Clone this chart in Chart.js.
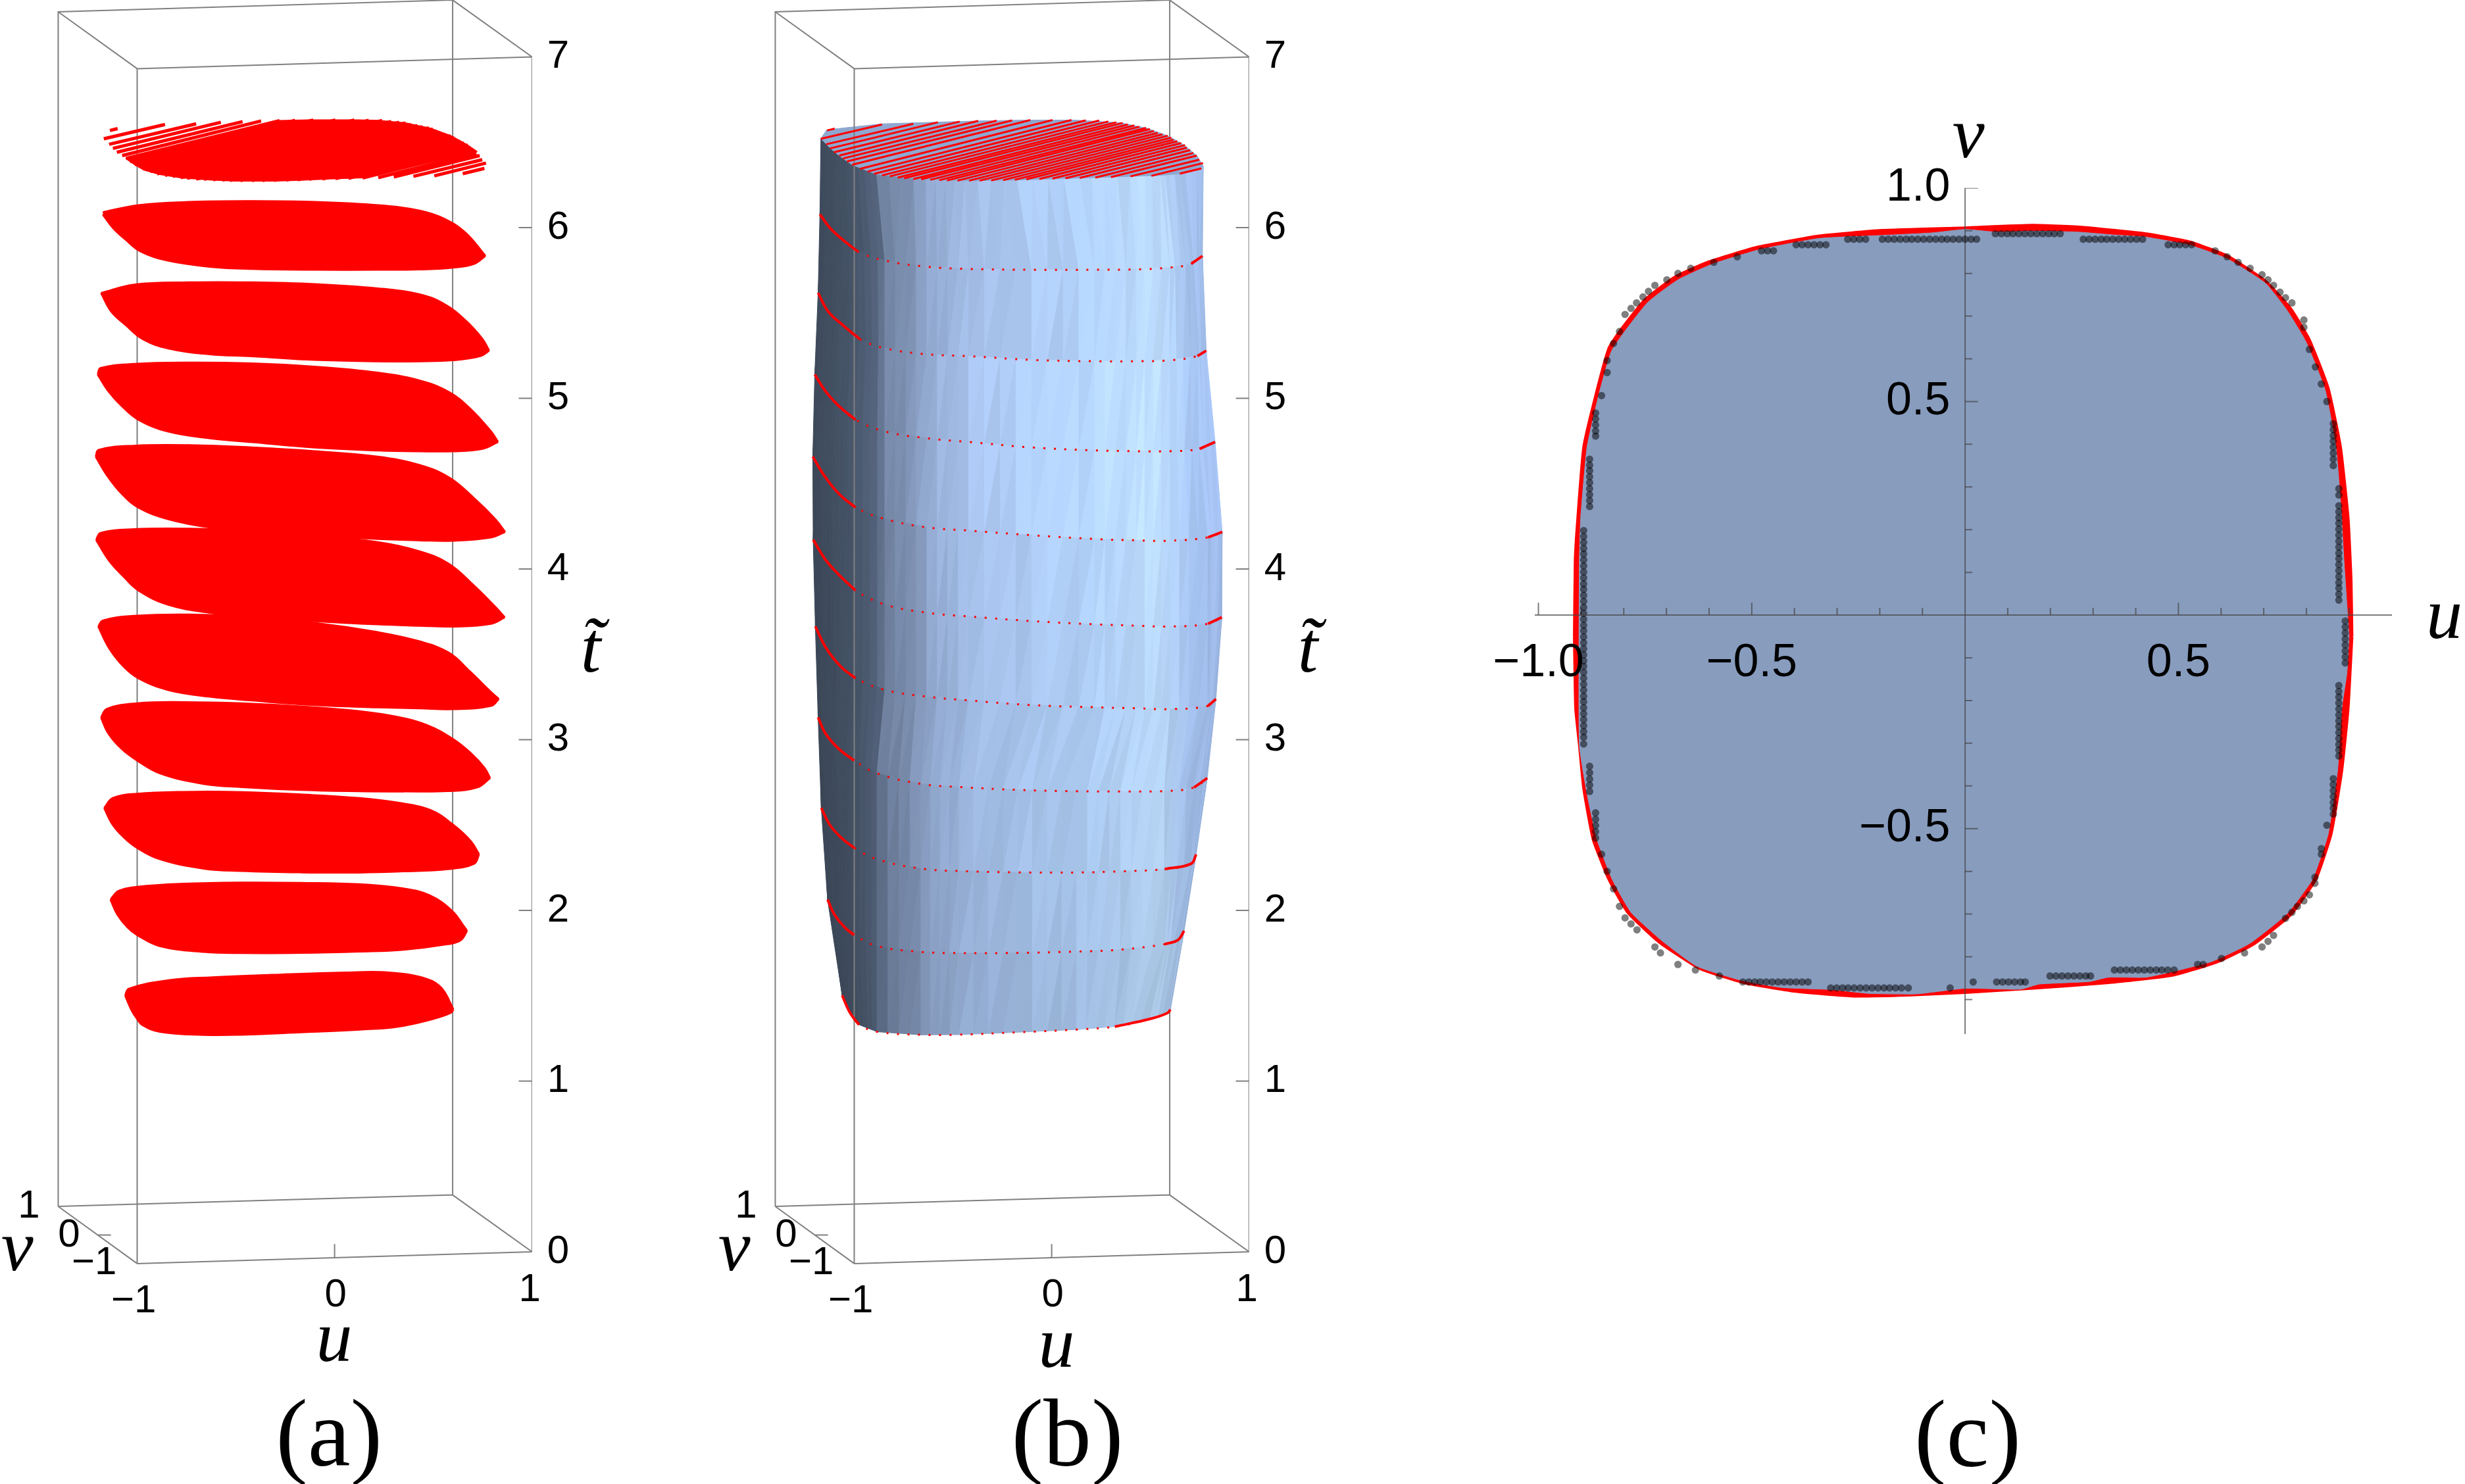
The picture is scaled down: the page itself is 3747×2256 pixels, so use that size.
<!DOCTYPE html>
<html>
<head>
  <meta charset="UTF-8">
  <title>Slices</title>
  <script src="https://cdn.jsdelivr.net/npm/chart.js"></script>
  <style>
    html, body { margin: 0; background: #fff; }
    canvas { position: absolute; top: 0; }
    #panelA { left: 0; }
    #panelB { left: 1090px; }
    #panelC { left: 2250px; }
  </style>
</head>
<body>
  <canvas id="panelA" width="1090" height="2256"></canvas>
  <canvas id="panelB" width="1090" height="2256"></canvas>
  <canvas id="panelC" width="1497" height="2256"></canvas>

  <script>
    // axis values
    const tTicks = [0, 1, 2, 3, 4, 5, 6, 7];
    const uTicksMajor = [-1, -0.5, 0.5];
    const uTicksMinor = [-0.9, -0.8, -0.7, -0.6, -0.4, -0.3, -0.2, -0.1, 0.1, 0.2, 0.3, 0.4, 0.6, 0.7, 0.8, 0.9];
    const vTicksMajor = [1, 0.5, -0.5];
    const vTicksMinor = [0.9, 0.8, 0.7, 0.6, 0.4, 0.3, 0.2, 0.1, -0.1, -0.2, -0.3, -0.4, -0.6, -0.7, -0.8, -0.9];

    // 3d box as projected on the panel: x is u on the front face, y is t on the right front edge
    const boxFront = [[-1, -0.069], [1, 0], [1, 7], [-1, 6.931], [-1, -0.069]];
    const boxBack = [[-1.4, 0.266], [0.598, 0.333], [0.598, 7.333], [-1.4, 7.264], [-1.4, 0.266]];
    const boxLinks = [
      [[-1.4, 0.266], [-1, -0.069]], [[0.598, 0.333], [1, 0]],
      [[-1.4, 7.264], [-1, 6.931]], [[0.598, 7.333], [1, 7]]
    ];
    const boxTicks = [
      [[0.933, 1], [1, 1]], [[0.933, 2], [1, 2]], [[0.933, 3], [1, 3]],
      [[0.933, 4], [1, 4]], [[0.933, 5], [1, 5]], [[0.933, 6], [1, 6]],
      [[0, -0.036], [0, 0.045]], [[-1.2, 0.098], [-1.133, 0.098]]
    ];

    // slice outlines, left tip to right tip, projected the same way
    const slice2Top = [[-1.174, 6.09], [-0.993, 6.131], [-0.738, 6.15], [-0.42, 6.155], [-0.101, 6.15], [0.218, 6.131], [0.43, 6.099], [0.558, 6.05], [0.664, 5.969], [0.764, 5.834]];
    const slice2Bottom = [[-1.174, 6.077], [-1.121, 5.996], [-1.057, 5.928], [-0.983, 5.861], [-0.845, 5.807], [-0.632, 5.771], [-0.42, 5.758], [-0.101, 5.753], [0.218, 5.753], [0.43, 5.755], [0.6, 5.766], [0.707, 5.788], [0.764, 5.834]];
    const slice3Top = [[-1.183, 5.617], [-1.015, 5.666], [-0.738, 5.679], [-0.42, 5.679], [-0.101, 5.669], [0.218, 5.644], [0.43, 5.609], [0.558, 5.55], [0.664, 5.455], [0.749, 5.347], [0.783, 5.279]];
    const slice3Bottom = [[-1.183, 5.617], [-1.132, 5.509], [-1.057, 5.428], [-0.972, 5.347], [-0.845, 5.293], [-0.632, 5.258], [-0.42, 5.247], [-0.101, 5.225], [0.218, 5.217], [0.43, 5.217], [0.6, 5.223], [0.738, 5.247], [0.783, 5.279]];
    const slice4Top = [[-1.2, 5.139], [-1.185, 5.177], [-1.015, 5.201], [-0.738, 5.209], [-0.42, 5.204], [-0.101, 5.185], [0.218, 5.15], [0.43, 5.104], [0.579, 5.036], [0.685, 4.941], [0.792, 4.806], [0.828, 4.744]];
    const slice4Bottom = [[-1.2, 5.139], [-1.142, 5.036], [-1.078, 4.955], [-0.993, 4.874], [-0.845, 4.806], [-0.632, 4.766], [-0.42, 4.744], [-0.101, 4.712], [0.218, 4.695], [0.43, 4.69], [0.6, 4.69], [0.749, 4.704], [0.828, 4.744]];
    const slice5Top = [[-1.21, 4.658], [-1.195, 4.698], [-1.015, 4.722], [-0.738, 4.725], [-0.42, 4.712], [-0.101, 4.69], [0.218, 4.658], [0.43, 4.609], [0.579, 4.536], [0.707, 4.414], [0.813, 4.293], [0.864, 4.217]];
    const slice5Bottom = [[-1.21, 4.658], [-1.153, 4.549], [-1.078, 4.441], [-0.993, 4.36], [-0.845, 4.293], [-0.632, 4.244], [-0.42, 4.225], [-0.101, 4.198], [0.218, 4.176], [0.43, 4.168], [0.6, 4.166], [0.792, 4.185], [0.864, 4.217]];
    const slice6Top = [[-1.208, 4.171], [-1.185, 4.211], [-1.015, 4.233], [-0.738, 4.236], [-0.42, 4.225], [-0.101, 4.198], [0.218, 4.157], [0.43, 4.103], [0.579, 4.03], [0.707, 3.901], [0.813, 3.779], [0.862, 3.717]];
    const slice6Bottom = [[-1.208, 4.171], [-1.142, 4.049], [-1.068, 3.955], [-0.993, 3.874], [-0.845, 3.792], [-0.632, 3.744], [-0.42, 3.722], [-0.101, 3.695], [0.218, 3.676], [0.43, 3.668], [0.6, 3.663], [0.792, 3.679], [0.862, 3.717]];
    const slice7Top = [[-1.197, 3.663], [-1.174, 3.698], [-1.015, 3.725], [-0.738, 3.733], [-0.42, 3.717], [-0.101, 3.684], [0.218, 3.63], [0.43, 3.576], [0.579, 3.509], [0.685, 3.4], [0.792, 3.279], [0.832, 3.238]];
    const slice7Bottom = [[-1.197, 3.663], [-1.142, 3.536], [-1.068, 3.428], [-0.993, 3.36], [-0.845, 3.292], [-0.632, 3.252], [-0.42, 3.23], [-0.101, 3.203], [0.218, 3.19], [0.43, 3.184], [0.6, 3.179], [0.792, 3.198], [0.832, 3.238]];
    const slice8Top = [[-1.183, 3.13], [-1.153, 3.181], [-1, 3.213], [-0.766, 3.22], [-0.469, 3.213], [-0.171, 3.195], [0.126, 3.167], [0.32, 3.133], [0.468, 3.085], [0.602, 3.002], [0.691, 2.92], [0.758, 2.837], [0.788, 2.775]];
    const slice8Bottom = [[-1.183, 3.13], [-1.146, 3.037], [-1.079, 2.947], [-1, 2.878], [-0.885, 2.803], [-0.662, 2.741], [-0.469, 2.723], [-0.171, 2.706], [0.126, 2.698], [0.349, 2.697], [0.572, 2.699], [0.721, 2.72], [0.788, 2.775]];
    const slice9Top = [[-1.167, 2.6], [-1.123, 2.658], [-1, 2.683], [-0.766, 2.694], [-0.469, 2.693], [-0.171, 2.679], [0.126, 2.658], [0.32, 2.631], [0.483, 2.589], [0.602, 2.5], [0.691, 2.404], [0.732, 2.328]];
    const slice9Bottom = [[-1.167, 2.6], [-1.123, 2.5], [-1.064, 2.424], [-1, 2.366], [-0.885, 2.3], [-0.662, 2.245], [-0.469, 2.231], [-0.171, 2.223], [0.126, 2.222], [0.349, 2.229], [0.572, 2.242], [0.706, 2.273], [0.732, 2.328]];
    const slice10Top = [[-1.135, 2.063], [-1.094, 2.114], [-1, 2.138], [-0.766, 2.156], [-0.469, 2.163], [-0.171, 2.161], [0.126, 2.153], [0.349, 2.128], [0.483, 2.087], [0.595, 1.997], [0.654, 1.908], [0.671, 1.88]];
    const slice10Bottom = [[-1.135, 2.063], [-1.101, 1.977], [-1.049, 1.901], [-1, 1.856], [-0.885, 1.791], [-0.662, 1.757], [-0.469, 1.75], [-0.171, 1.751], [0.126, 1.759], [0.349, 1.77], [0.572, 1.802], [0.639, 1.826], [0.671, 1.88]];
    const slice11Top = [[-1.061, 1.502], [-1.042, 1.541], [-0.841, 1.591], [-0.618, 1.608], [-0.32, 1.622], [0.052, 1.636], [0.275, 1.636], [0.468, 1.598], [0.543, 1.543], [0.602, 1.419]];
    const slice11Bottom = [[-1.061, 1.502], [-1.027, 1.412], [-1, 1.364], [-0.975, 1.33], [-0.885, 1.289], [-0.662, 1.271], [-0.469, 1.272], [-0.171, 1.286], [0.126, 1.302], [0.32, 1.319], [0.498, 1.364], [0.587, 1.399], [0.602, 1.419]];

    // top slice: solid middle, full outline of the cap, and its point rows
    const slice1MidTop = [[-1.057, 6.405], [-0.28, 6.626], [-0.128, 6.63], [0.116, 6.63], [0.221, 6.627], [0.353, 6.614], [0.484, 6.582], [0.59, 6.537], [0.669, 6.486], [0.722, 6.445]];
    const slice1MidBottom = [[-1.057, 6.405], [-1.011, 6.368], [-0.965, 6.338], [-0.886, 6.312], [-0.78, 6.293], [-0.635, 6.28], [-0.504, 6.274], [-0.306, 6.274], [-0.174, 6.278], [-0.003, 6.287], [0.142, 6.293], [0.722, 6.445]];
    const capTop = [[-1.169, 6.522], [-1.139, 6.573], [-0.859, 6.608], [-0.576, 6.618], [-0.372, 6.625], [-0.128, 6.63], [0.116, 6.63], [0.353, 6.614], [0.484, 6.582], [0.59, 6.537], [0.669, 6.486], [0.735, 6.422], [0.768, 6.36]];
    const slice1Bottom = [[-1.169, 6.522], [-1.123, 6.467], [-1.077, 6.422], [-1.011, 6.368], [-0.886, 6.312], [-0.635, 6.28], [-0.438, 6.274], [-0.174, 6.278], [0.142, 6.29], [0.399, 6.3], [0.551, 6.306], [0.649, 6.315], [0.768, 6.36]];
    const stripeLowU = [-1.138, -1.169, -1.142, -1.123, -1.103, -1.076, -1.057, -1.037, -1.011, -0.971, -0.932, -0.899, -0.859, -0.82, -0.78, -0.747, -0.701, -0.661, -0.615, -0.569, -0.53, -0.477, -0.418, -0.365, -0.306, -0.246, -0.187, -0.128, -0.062, 0.004, 0.07, 0.142, 0.221, 0.3, 0.399, 0.505, 0.649];
    const stripeLowT = [6.569, 6.52, 6.488, 6.464, 6.441, 6.422, 6.405, 6.387, 6.368, 6.344, 6.328, 6.315, 6.306, 6.3, 6.293, 6.289, 6.284, 6.283, 6.28, 6.278, 6.276, 6.275, 6.275, 6.275, 6.276, 6.278, 6.28, 6.283, 6.285, 6.287, 6.289, 6.291, 6.293, 6.296, 6.3, 6.303, 6.316];
    const stripeHighU = [-1.099, -0.859, -0.701, -0.576, -0.466, -0.372, -0.279, -0.2, -0.108, 0.004, 0.1, 0.173, 0.241, 0.287, 0.327, 0.36, 0.386, 0.419, 0.445, 0.478, 0.498, 0.518, 0.537, 0.561, 0.588, 0.606, 0.617, 0.636, 0.656, 0.676, 0.685, 0.702, 0.718, 0.735, 0.748, 0.767, 0.759];
    const stripeHighT = [6.58, 6.604, 6.608, 6.617, 6.621, 6.625, 6.626, 6.628, 6.63, 6.63, 6.63, 6.628, 6.627, 6.622, 6.617, 6.613, 6.604, 6.598, 6.591, 6.584, 6.577, 6.566, 6.555, 6.546, 6.538, 6.527, 6.515, 6.506, 6.495, 6.483, 6.468, 6.454, 6.437, 6.422, 6.398, 6.378, 6.347];

    // panel c: boundary, u and v
    const outerTop = [[-0.916, -0.05], [-0.914, 0.129], [-0.908, 0.227], [-0.894, 0.394], [-0.864, 0.522], [-0.835, 0.625], [-0.81, 0.664], [-0.751, 0.738], [-0.68, 0.792], [-0.599, 0.828], [-0.489, 0.861], [-0.342, 0.888], [-0.194, 0.901], [0, 0.907], [0.159, 0.913], [0.277, 0.908], [0.424, 0.893], [0.527, 0.874], [0.615, 0.841], [0.704, 0.782], [0.763, 0.718], [0.807, 0.645], [0.851, 0.532], [0.88, 0.394], [0.898, 0.227], [0.905, 0.08], [0.907, -0.05]];
    const outerBottom = [[-0.916, -0.05], [-0.913, -0.218], [-0.904, -0.306], [-0.894, -0.407], [-0.872, -0.525], [-0.835, -0.619], [-0.791, -0.696], [-0.717, -0.766], [-0.621, -0.828], [-0.518, -0.861], [-0.4, -0.881], [-0.268, -0.892], [-0.135, -0.89], [0, -0.884], [0.159, -0.874], [0.336, -0.861], [0.483, -0.844], [0.586, -0.814], [0.674, -0.772], [0.763, -0.702], [0.822, -0.619], [0.858, -0.513], [0.883, -0.365], [0.898, -0.218], [0.907, -0.05]];
    const innerTop = [[-0.905, -0.05], [-0.904, 0.129], [-0.901, 0.227], [-0.886, 0.394], [-0.857, 0.522], [-0.827, 0.622], [-0.745, 0.731], [-0.673, 0.785], [-0.592, 0.822], [-0.481, 0.856], [-0.342, 0.882], [-0.194, 0.889], [-0.077, 0.895], [0, 0.903], [0.071, 0.897], [0.159, 0.899], [0.262, 0.897], [0.35, 0.89], [0.424, 0.885], [0.527, 0.866], [0.615, 0.834], [0.704, 0.777], [0.755, 0.713], [0.799, 0.64], [0.844, 0.527], [0.869, 0.394], [0.88, 0.266], [0.888, 0.129], [0.9, -0.05]];
    const innerBottom = [[-0.905, -0.05], [-0.904, -0.306], [-0.886, -0.419], [-0.863, -0.525], [-0.827, -0.619], [-0.783, -0.696], [-0.71, -0.763], [-0.629, -0.822], [-0.526, -0.855], [-0.43, -0.872], [-0.312, -0.877], [-0.224, -0.886], [-0.113, -0.887], [0, -0.874], [0.13, -0.876], [0.174, -0.864], [0.292, -0.858], [0.336, -0.848], [0.424, -0.848], [0.49, -0.834], [0.579, -0.811], [0.667, -0.769], [0.755, -0.699], [0.814, -0.619], [0.851, -0.513], [0.873, -0.365], [0.883, -0.218], [0.895, -0.135], [0.9, -0.05]];

    // panel c: sampled points near the boundary, rows at one v and columns at one u
    const dotRows = [
      [0.88, [-0.275, -0.261, -0.247, -0.233, -0.194, -0.18, -0.166, -0.152, -0.138, -0.125, -0.111, -0.097, -0.083, -0.069, -0.055, -0.042, -0.028, -0.014, 0, 0.014, 0.027, 0.277, 0.291, 0.305, 0.319, 0.332, 0.346, 0.36, 0.374, 0.388, 0.402, 0.416]],
      [0.893, [0.071, 0.085, 0.099, 0.112, 0.126, 0.14, 0.154, 0.168, 0.182, 0.196, 0.209, 0.223]],
      [0.867, [-0.396, -0.382, -0.368, -0.354, -0.34, -0.326, 0.476, 0.49, 0.503, 0.517, 0.531]],
      [0.853, [-0.477, -0.463, -0.449, 0.586]],
      [-0.859, [-0.521, -0.507, -0.493, -0.48, -0.466, -0.452, -0.438, -0.424, -0.41, -0.396, -0.382, -0.368, 0.019, 0.074, 0.088, 0.102, 0.116, 0.13, 0.141]],
      [-0.873, [-0.315, -0.301, -0.287, -0.274, -0.26, -0.246, -0.232, -0.218, -0.204, -0.19, -0.177, -0.163, -0.149, -0.133, -0.035]],
      [-0.845, [0.199, 0.213, 0.227, 0.241, 0.255, 0.269, 0.283, 0.294]],
      [-0.831, [0.35, 0.364, 0.378, 0.392, 0.406, 0.42, 0.434, 0.448, 0.461, 0.475, 0.49]],
      [-0.818, [0.545, 0.558]]
    ];
    const dotCols = [
      [-0.894, [0.198, 0.184, 0.17, 0.156, 0.143, 0.129, 0.115, 0.101, 0.087, 0.073, 0.06, 0.046, 0.032, 0.018, 0.004, -0.01, -0.024, -0.037, -0.051, -0.065, -0.079, -0.093, -0.107, -0.12, -0.134, -0.148, -0.162, -0.176, -0.19, -0.203, -0.217, -0.231, -0.245, -0.259, -0.273, -0.286, -0.302]],
      [-0.88, [0.365, 0.351, 0.338, 0.324, 0.31, 0.296, 0.282, 0.268, 0.254, -0.354, -0.369, -0.384, -0.398, -0.413]],
      [-0.866, [0.473, 0.459, 0.445, 0.431, 0.419, -0.463, -0.478, -0.493, -0.507, -0.522]],
      [0.863, [0.448, 0.434, 0.42, 0.407, 0.393, 0.379, 0.365, 0.35, -0.383, -0.397, -0.411, -0.425, -0.439, -0.452, -0.466]],
      [0.876, [0.296, 0.281, 0.256, 0.242, 0.228, 0.215, 0.201, 0.187, 0.173, 0.159, 0.145, 0.132, 0.118, 0.104, 0.09, 0.076, 0.063, 0.049, 0.035, -0.165, -0.179, -0.192, -0.206, -0.22, -0.234, -0.248, -0.261, -0.275, -0.289, -0.303, -0.316, -0.33]],
      [0.891, [-0.014, -0.028, -0.042, -0.056, -0.07, -0.084, -0.098, -0.112]]
    ];
    const dotU = [-0.534, -0.589, -0.643, -0.673, -0.699, -0.727, -0.742, -0.755, -0.77, -0.783, -0.797, -0.81, -0.824, -0.839, -0.839, -0.852, -0.852, -0.839, -0.824, -0.81, -0.797, -0.783, -0.769, -0.727, -0.714, -0.673, -0.632, -0.576, 0.601, 0.655, 0.696, 0.71, 0.723, 0.751, 0.766, 0.779, 0.794, 0.807, 0.82, 0.82, 0.835, 0.835, 0.848, 0.848, 0.835, 0.821, 0.807, 0.794, 0.794, 0.766, 0.751, 0.738, 0.723, 0.71, 0.696, 0.668, 0.64, 0.614];
    const dotV = [0.839, 0.826, 0.812, 0.8, 0.785, 0.772, 0.758, 0.745, 0.731, 0.718, 0.704, 0.664, 0.636, 0.596, 0.568, 0.514, -0.56, -0.6, -0.641, -0.682, -0.709, -0.723, -0.737, -0.777, -0.791, -0.818, -0.831, -0.845, -0.804, -0.791, -0.777, -0.764, -0.75, -0.71, -0.696, -0.682, -0.669, -0.655, -0.628, -0.614, -0.56, -0.547, -0.492, 0.5, 0.541, 0.581, 0.622, 0.674, 0.691, 0.731, 0.743, 0.756, 0.772, 0.785, 0.797, 0.812, 0.826, 0.839];

    // surface shading in panel b
    const shadeU = [-1.2, -1, -0.88, -0.84, -0.7, -0.55, -0.3, 0.2, 0.55, 0.7, 0.85];
    const shadeRGB = [[60, 72, 88], [70, 84, 104], [85, 100, 125], [112, 130, 160], [130, 150, 185], [155, 180, 220], [170, 198, 240], [180, 212, 252], [190, 222, 255], [165, 195, 240], [160, 188, 235]];
    const rowTint = [1, 1, 1.03, 1.03, 1, 0.98, 0.97, 0.95, 0.93, 0.9];
    const facetTint = [1, 0.97, 1.02, 0.99, 1.03, 0.96, 1.01, 0.99, 0.97, 1.02, 1.01, 0.96, 1.02, 0.98, 1, 1.03, 0.97];

    const RED = '#ff0000';
    const GRAY = '#808080';
    const SANS = '"Liberation Sans"';
    const SERIF = '"Liberation Serif"';
    const numFont = '60px ' + SANS;
    const varFont = 'italic 110px ' + SERIF;
    const capFont = '146px ' + SERIF;

    const pairs = list => list.map(([x, y]) => ({ x, y }));
    const broken = lists => lists.flatMap(l => [...pairs(l), { x: null, y: null }]);
    const line = (data, opts) => Object.assign({
      data, showLine: true, pointRadius: 0, borderWidth: 2, borderColor: GRAY, fill: false, tension: 0
    }, opts);
    const stripes = stripeLowU.map((u, i) => [[u, stripeLowT[i]], [stripeHighU[i], stripeHighT[i]]]);

    const sliceTops = [slice2Top, slice3Top, slice4Top, slice5Top, slice6Top, slice7Top, slice8Top, slice9Top, slice10Top, slice11Top];
    const sliceBottoms = [slice2Bottom, slice3Bottom, slice4Bottom, slice5Bottom, slice6Bottom, slice7Bottom, slice8Bottom, slice9Bottom, slice10Bottom, slice11Bottom];

    // chart.js keeps room for half a label at each axis end, the scales here are set by hand
    const noEndPadding = s => { s.paddingTop = s.paddingBottom = s.paddingLeft = s.paddingRight = 0; };

    // text placed at chart values, not clipped to the chart area
    const textPlugin = {
      id: 'panelText',
      afterDraw(chart, args, opts) {
        const { ctx, scales } = chart;
        ctx.save();
        ctx.fillStyle = '#000';
        ctx.textAlign = 'center';
        ctx.textBaseline = 'middle';
        opts.items.forEach(([text, x, y, font]) => {
          ctx.font = font;
          ctx.fillText(text, scales.x.getPixelForValue(x), scales.y.getPixelForValue(y));
        });
        ctx.restore();
      }
    };

    function shadeAt(u) {
      let i = 0;
      while (i < shadeU.length - 2 && u > shadeU[i + 1]) i++;
      const f = Math.min(1, Math.max(0, (u - shadeU[i]) / (shadeU[i + 1] - shadeU[i])));
      return shadeRGB[i].map((c, k) => c + (shadeRGB[i + 1][k] - c) * f);
    }

    // faceted surface between the rings of panel b, drawn right above the back edges
    const meshPlugin = {
      id: 'surfaceMesh',
      afterDatasetDraw(chart, args) {
        if (args.index !== chart.data.datasets.length - 1) return;
        const { ctx, scales: { x, y } } = chart;
        const rings = [slice1Bottom, ...sliceBottoms];
        const sub = 4;
        const at = (ring, c, k) => {
          const f = k / sub;
          return [ring[c][0] + (ring[c + 1][0] - ring[c][0]) * f, ring[c][1] + (ring[c + 1][1] - ring[c][1]) * f];
        };
        const tri = (a, b, c, rgb, tint) => {
          const col = `rgb(${rgb.map(v => Math.min(255, Math.round(v * tint))).join(',')})`;
          ctx.fillStyle = col;
          ctx.strokeStyle = col;
          ctx.beginPath();
          ctx.moveTo(x.getPixelForValue(a[0]), y.getPixelForValue(a[1]));
          ctx.lineTo(x.getPixelForValue(b[0]), y.getPixelForValue(b[1]));
          ctx.lineTo(x.getPixelForValue(c[0]), y.getPixelForValue(c[1]));
          ctx.closePath();
          ctx.fill();
          ctx.stroke();
        };
        ctx.save();
        ctx.lineWidth = 1;
        const nt = facetTint.length;
        for (let r = 0; r < rings.length - 1; r++) {
          for (let c = 0; c < rings[r].length - 1; c++) {
            for (let k = 0; k < sub; k++) {
              const a = at(rings[r], c, k), b = at(rings[r], c, k + 1);
              const d = at(rings[r + 1], c, k), e = at(rings[r + 1], c, k + 1);
              const rgb = shadeAt((a[0] + b[0] + d[0] + e[0]) / 4).map(v => v * rowTint[r]);
              const soft = a[0] < -0.88 ? 0.4 : 1;   // dark side stays flatter
              // tint follows the column and only changes every other row, so facets run upright
              const idx = (c * sub + k) * 5 + Math.floor(r / 2) * 3;
              tri(a, d, b, rgb, 1 + (facetTint[idx % nt] - 1) * soft);
              tri(b, d, e, rgb, 1 + (facetTint[(idx + 2) % nt] - 1) * soft);
            }
          }
        }
        ctx.restore();
      }
    };

    function boxOptions(items) {
      return {
        responsive: false,
        animation: false,
        layout: { padding: 0 },
        plugins: { legend: { display: false }, tooltip: { enabled: false }, panelText: { items } },
        scales: {
          x: { type: 'linear', display: false, min: -1.6948, max: 1 },
          y: {
            type: 'linear', position: 'right', min: -1.3603, max: 7.3333,
            afterFit: s => { noEndPadding(s); s.width = 281.3; },
            afterBuildTicks: s => { s.ticks = tTicks.map(value => ({ value })); },
            grid: { display: false, drawTicks: false },
            border: { display: false },
            ticks: { padding: 23, color: '#000', autoSkip: false, font: { family: 'Liberation Sans', size: 60 } }
          }
        }
      };
    }

    const boxLabels = [
      ['1', -1.548, 0.266, numFont], ['0', -1.345, 0.096, numFont], ['\u22121', -1.218, -0.069, numFont],
      ['\u22121', -1.018, -0.289, numFont], ['0', 0.005, -0.258, numFont], ['1', 0.988, -0.224, numFont],
      ['v', -1.608, 0.005, varFont], ['t\u0303', 1.298, 3.51, varFont]
    ];

    // panel a: solid slices
    const sliceSets = [];
    sliceTops.forEach((top, i) => {
      sliceSets.push(line(pairs(top), { borderColor: RED, borderWidth: 3, tension: 0.4, fill: '+1', backgroundColor: RED }));
      sliceSets.push(line(pairs(sliceBottoms[i]), { borderColor: RED, borderWidth: 3, tension: 0.4 }));
    });

    new Chart(document.getElementById('panelA'), {
      type: 'scatter',
      data: {
        datasets: [
          line(broken(stripes), { borderColor: RED, borderWidth: 5 }),
          line(pairs(slice1MidTop), { borderColor: RED, borderWidth: 2, fill: '+1', backgroundColor: RED }),
          line(pairs(slice1MidBottom), { borderColor: RED, borderWidth: 2 }),
          ...sliceSets,
          line(broken(boxTicks)),
          line(pairs(boxFront)),
          line(broken([...boxLinks, boxBack]))
        ]
      },
      options: boxOptions([...boxLabels, ['u', -0.002, -0.528, varFont], ['(a)', -0.028, -1.106, capFont]]),
      plugins: [textPlugin]
    });

    // panel b: surface with the same slices as rings
    const ringTails = sliceBottoms.map((b, i) => b.slice(i === 9 ? -4 : i >= 7 ? -3 : -2));
    new Chart(document.getElementById('panelB'), {
      type: 'scatter',
      data: {
        datasets: [
          line(broken(stripes), { borderColor: RED, borderWidth: 3 }),
          line(broken([...sliceBottoms.map(b => b.slice(0, 4)), ...ringTails]), { borderColor: RED, borderWidth: 4, tension: 0.4 }),
          line(broken(sliceBottoms), { borderColor: RED, borderWidth: 3, borderDash: [3, 13], tension: 0.4 }),
          line(broken(boxTicks)),
          line(pairs(boxFront)),
          line(pairs(capTop), { borderColor: '#8fa8d0', borderWidth: 1, fill: '+1', backgroundColor: '#8fa8d0' }),
          line(pairs(slice1Bottom), { borderColor: '#8fa8d0', borderWidth: 1 }),
          line(broken([...boxLinks, boxBack]))
        ]
      },
      options: boxOptions([...boxLabels, ['u', 0.025, -0.562, varFont], ['(b)', 0.08, -1.106, capFont]]),
      plugins: [meshPlugin, textPlugin]
    });

    // panel c: cross section
    const tickLabel = (value, majors) => majors.includes(value) ? value.toFixed(1).replace('-', '\u2212') : '';
    const uTickMarks = [
      ...uTicksMajor.map(u => [[u, 0], [u, 0.029]]),
      ...uTicksMinor.map(u => [[u, 0], [u, 0.017]])
    ];
    const vTickMarks = [
      ...vTicksMajor.map(v => [[0, v], [0.03, v]]),
      ...vTicksMinor.map(v => [[0, v], [0.017, v]])
    ];
    const dotPoints = [
      ...dotRows.flatMap(([v, us]) => us.map(u => ({ x: u, y: v }))),
      ...dotCols.flatMap(([u, vs]) => vs.map(v => ({ x: u, y: v }))),
      ...dotU.map((u, i) => ({ x: u, y: dotV[i] }))
    ];

    new Chart(document.getElementById('panelC'), {
      type: 'scatter',
      data: {
        datasets: [
          { data: dotPoints, pointRadius: 5.6, pointBorderWidth: 0, pointBackgroundColor: 'rgba(0,0,0,0.5)' },
          line(broken([...uTickMarks, ...vTickMarks]), { borderColor: 'rgba(70,70,70,0.7)' }),
          line(pairs([[0, -0.981], [0, 1]]), { borderColor: 'rgba(70,70,70,0.7)' }),
          line(pairs(innerTop), { borderColor: '#889cbe', borderWidth: 1, tension: 0.15, fill: '+1', backgroundColor: '#889cbe' }),
          line(pairs(innerBottom), { borderColor: '#889cbe', borderWidth: 1, tension: 0.15 }),
          line(pairs(outerTop), { borderColor: RED, borderWidth: 4, tension: 0.15, fill: '+1', backgroundColor: RED }),
          line(pairs(outerBottom), { borderColor: RED, borderWidth: 4, tension: 0.15 })
        ]
      },
      options: {
        responsive: false,
        animation: false,
        layout: { padding: { left: 84, right: 112, top: 285.8, bottom: 684 } },
        plugins: {
          legend: { display: false },
          tooltip: { enabled: false },
          panelText: { items: [['v', 0.008, 1.116, varFont], ['u', 1.123, -0.01, varFont], ['(c)', 0.006, -1.934, capFont]] }
        },
        scales: {
          x: {
            type: 'linear', position: { y: 0 }, min: -1.007, max: 0.999,
            afterFit: noEndPadding,
            afterBuildTicks: s => { s.ticks = uTicksMajor.map(value => ({ value })); },
            grid: { display: false, drawTicks: false },
            border: { color: 'rgba(70,70,70,0.7)', width: 2, z: 1 },
            ticks: {
              z: 1, padding: 32, color: '#000', autoSkip: false, maxRotation: 0,
              font: { family: 'Liberation Sans', size: 70 },
              callback: value => tickLabel(value, uTicksMajor)
            }
          },
          y: {
            type: 'linear', position: { x: -0.035 }, min: -0.981, max: 1,
            afterFit: noEndPadding,
            afterBuildTicks: s => { s.ticks = vTicksMajor.map(value => ({ value })); },
            grid: { display: false, drawTicks: false },
            border: { display: false },
            ticks: {
              z: 1, color: '#000', autoSkip: false,
              font: { family: 'Liberation Sans', size: 70 },
              callback: value => tickLabel(value, vTicksMajor)
            }
          }
        }
      },
      plugins: [textPlugin]
    });
  </script>
</body>
</html>
